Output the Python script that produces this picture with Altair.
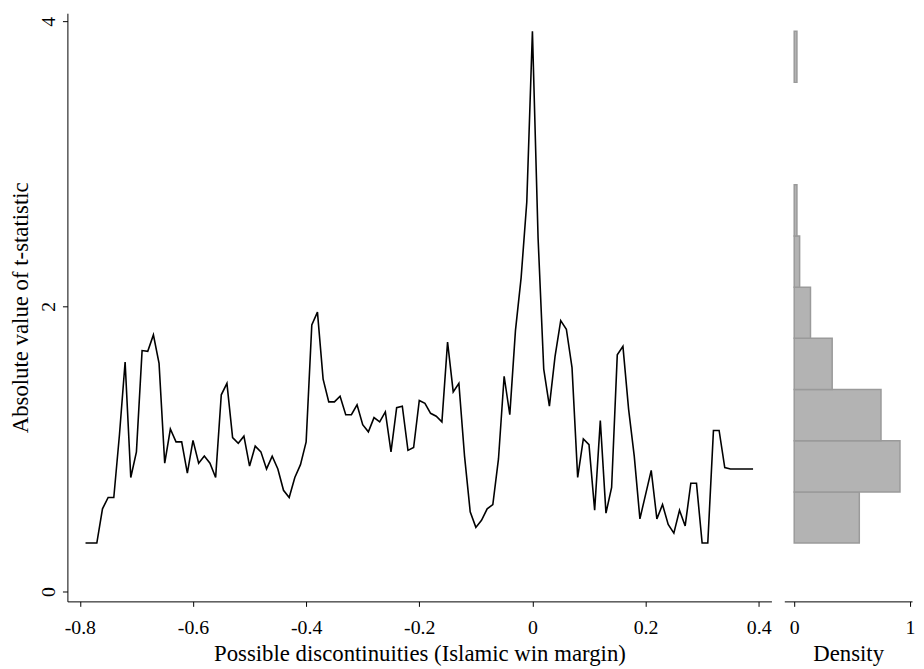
import altair as alt
import pandas as pd
import numpy as np

# Possible discontinuity locations (Islamic win margin)
margin = [
    -0.79, -0.78, -0.77, -0.76, -0.75, -0.74, -0.73, -0.72, -0.71, -0.70,
    -0.69, -0.68, -0.67, -0.66, -0.65, -0.64, -0.63, -0.62, -0.61, -0.60,
    -0.59, -0.58, -0.57, -0.56, -0.55, -0.54, -0.53, -0.52, -0.51, -0.50,
    -0.49, -0.48, -0.47, -0.46, -0.45, -0.44, -0.43, -0.42, -0.41, -0.40,
    -0.39, -0.38, -0.37, -0.36, -0.35, -0.34, -0.33, -0.32, -0.31, -0.30,
    -0.29, -0.28, -0.27, -0.26, -0.25, -0.24, -0.23, -0.22, -0.21, -0.20,
    -0.19, -0.18, -0.17, -0.16, -0.15, -0.14, -0.13, -0.12, -0.11, -0.10,
    -0.09, -0.08, -0.07, -0.06, -0.05, -0.04, -0.03, -0.02, -0.01, 0.00,
    0.01, 0.02, 0.03, 0.04, 0.05, 0.06, 0.07, 0.08, 0.09, 0.10,
    0.11, 0.12, 0.13, 0.14, 0.15, 0.16, 0.17, 0.18, 0.19, 0.20,
    0.21, 0.22, 0.23, 0.24, 0.25, 0.26, 0.27, 0.28, 0.29, 0.30,
    0.31, 0.32, 0.33, 0.34, 0.35, 0.36, 0.37, 0.38, 0.39,
]

# Absolute value of t-statistic at each location
tstat = [
    0.34, 0.34, 0.34, 0.58, 0.66, 0.66, 1.10, 1.61, 0.80, 0.98,
    1.69, 1.685, 1.80, 1.60, 0.90, 1.14, 1.05, 1.05, 0.83, 1.06,
    0.90, 0.95, 0.90, 0.80, 1.38, 1.46, 1.08, 1.04, 1.09, 0.88,
    1.02, 0.98, 0.86, 0.95, 0.86, 0.71, 0.66, 0.80, 0.89, 1.05,
    1.87, 1.96, 1.49, 1.33, 1.33, 1.37, 1.24, 1.24, 1.31, 1.17,
    1.12, 1.22, 1.19, 1.26, 0.98, 1.29, 1.30, 0.99, 1.01, 1.34,
    1.32, 1.25, 1.23, 1.19, 1.75, 1.40, 1.46, 0.95, 0.56, 0.45,
    0.50, 0.58, 0.61, 0.93, 1.51, 1.24, 1.83, 2.20, 2.73, 3.93,
    2.48, 1.56, 1.30, 1.65, 1.90, 1.84, 1.57, 0.80, 1.07, 1.03,
    0.57, 1.20, 0.55, 0.73, 1.66, 1.72, 1.28, 0.95, 0.51, 0.68,
    0.85, 0.51, 0.61, 0.47, 0.41, 0.57, 0.46, 0.76, 0.76, 0.34,
    0.34, 1.13, 1.13, 0.87, 0.86, 0.86, 0.86, 0.86, 0.86,
]

x_ticks = [-0.8, -0.6, -0.4, -0.2, 0, 0.2, 0.4]
y_ticks = [0, 2, 4]
dens_ticks = [0, 1]

line_df = pd.DataFrame({"margin": margin, "t": tstat})

# Histogram of the t-statistics (10 bins over the observed range, density scale)
dens, edges = np.histogram(tstat, bins=10, density=True)
hist_df = pd.DataFrame({"lo": edges[:-1], "hi": edges[1:], "density": dens})
hist_df = hist_df[hist_df["density"] > 0].copy()
hist_df["base"] = 0.0

FONT = "Liberation Serif"
Y_DOM = [-0.069, 4.056]

line = alt.Chart(line_df).mark_line(color="black", strokeWidth=1.6).encode(
    x=alt.X(
        "margin:Q",
        scale=alt.Scale(domain=[-0.822, 0.4225], nice=False, zero=False),
        axis=alt.Axis(
            values=x_ticks,
            format=".1~f",
            labelExpr="replace(datum.label, '\u2212', '-')",
            title="Possible discontinuities (Islamic win margin)",
        ),
    ),
    y=alt.Y(
        "t:Q",
        scale=alt.Scale(domain=Y_DOM, nice=False, zero=False),
        axis=alt.Axis(
            values=y_ticks,
            format="d",
            labelAngle=270,
            title="Absolute value of t-statistic",
        ),
    ),
).properties(width=711, height=594)

hist = alt.Chart(hist_df).mark_rect(
    fill="#b3b3b3", stroke="#9a9a9a", strokeWidth=1.5
).encode(
    x=alt.X(
        "base:Q",
        scale=alt.Scale(domain=[-0.0855, 1.017], nice=False, zero=False),
        axis=alt.Axis(values=dens_ticks, format="d", title="Density"),
    ),
    x2="density:Q",
    y=alt.Y("lo:Q", scale=alt.Scale(domain=Y_DOM, nice=False, zero=False), axis=None),
    y2="hi:Q",
).properties(width=129, height=594)

chart = alt.hconcat(line, hist, spacing=13).properties(
    padding={"left": 2, "top": 2, "right": 0, "bottom": 0},
    background="white",
).configure_view(stroke=None).configure_axis(
    grid=False,
    domainColor="black",
    domainWidth=1,
    tickColor="black",
    tickSize=5,
    labelColor="black",
    labelFont=FONT,
    labelFontSize=20,
    titleColor="black",
    titleFont=FONT,
    titleFontSize=23,
    titleFontWeight="normal",
).configure_axisX(
    labelPadding=11,
    titlePadding=6,
).configure_axisY(
    labelPadding=4,
    titlePadding=6,
)

chart.save("out.html", embed_options={"renderer": "svg", "actions": False})
